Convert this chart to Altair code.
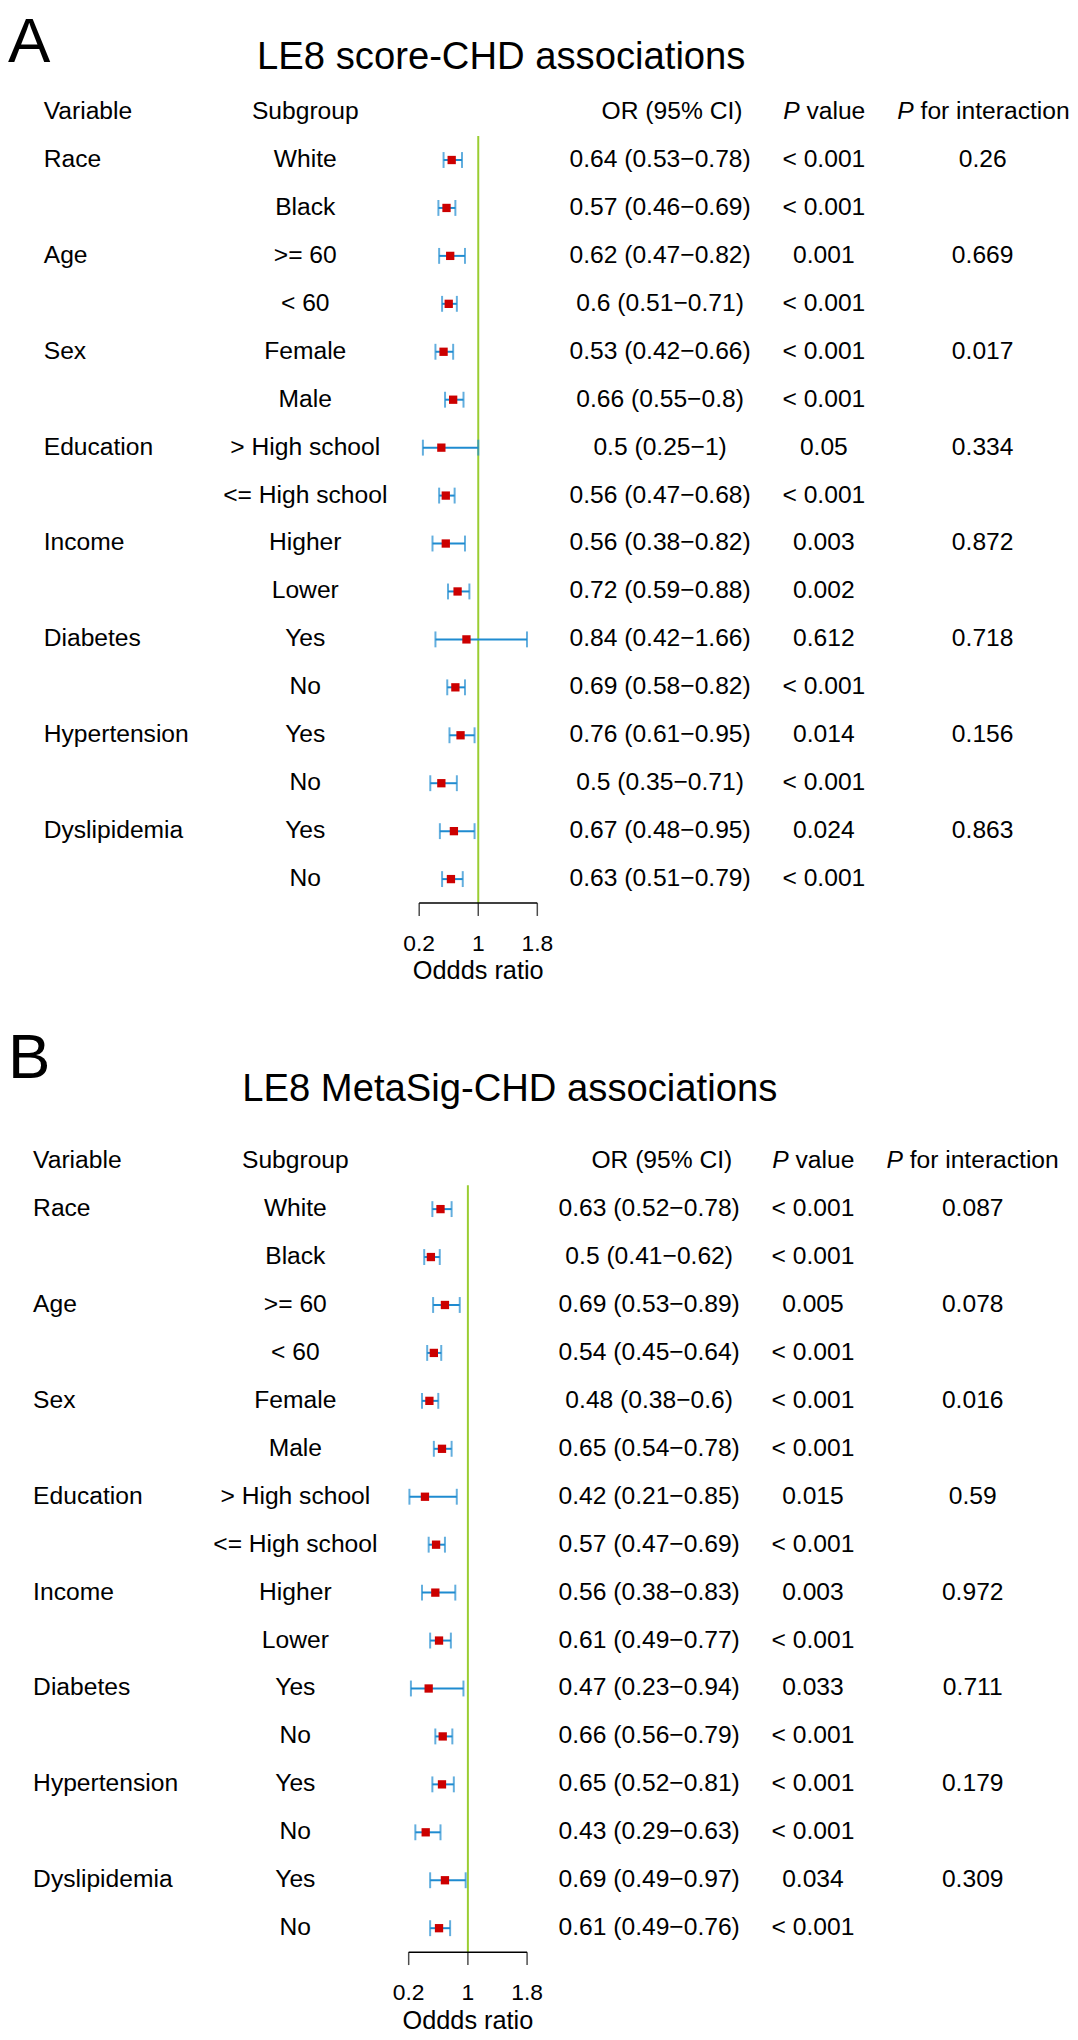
import altair as alt
import pandas as pd

# ---------------- data ----------------
variables = ["Race", "", "Age", "", "Sex", "", "Education", "", "Income", "",
             "Diabetes", "", "Hypertension", "", "Dyslipidemia", ""]
subgroups = ["White", "Black", ">= 60", "< 60", "Female", "Male", "> High school",
             "<= High school", "Higher", "Lower", "Yes", "No", "Yes", "No", "Yes", "No"]

a_or = [0.64, 0.57, 0.62, 0.6, 0.53, 0.66, 0.5, 0.56, 0.56, 0.72, 0.84, 0.69, 0.76, 0.5, 0.67, 0.63]
a_lo = [0.53, 0.46, 0.47, 0.51, 0.42, 0.55, 0.25, 0.47, 0.38, 0.59, 0.42, 0.58, 0.61, 0.35, 0.48, 0.51]
a_hi = [0.78, 0.69, 0.82, 0.71, 0.66, 0.8, 1, 0.68, 0.82, 0.88, 1.66, 0.82, 0.95, 0.71, 0.95, 0.79]
a_p = ["< 0.001", "< 0.001", "0.001", "< 0.001", "< 0.001", "< 0.001", "0.05", "< 0.001",
       "0.003", "0.002", "0.612", "< 0.001", "0.014", "< 0.001", "0.024", "< 0.001"]
a_pint = ["0.26", "", "0.669", "", "0.017", "", "0.334", "", "0.872", "", "0.718", "",
          "0.156", "", "0.863", ""]

b_or = [0.63, 0.5, 0.69, 0.54, 0.48, 0.65, 0.42, 0.57, 0.56, 0.61, 0.47, 0.66, 0.65, 0.43, 0.69, 0.61]
b_lo = [0.52, 0.41, 0.53, 0.45, 0.38, 0.54, 0.21, 0.47, 0.38, 0.49, 0.23, 0.56, 0.52, 0.29, 0.49, 0.49]
b_hi = [0.78, 0.62, 0.89, 0.64, 0.6, 0.78, 0.85, 0.69, 0.83, 0.77, 0.94, 0.79, 0.81, 0.63, 0.97, 0.76]
b_p = ["< 0.001", "< 0.001", "0.005", "< 0.001", "< 0.001", "< 0.001", "0.015", "< 0.001",
       "0.003", "< 0.001", "0.033", "< 0.001", "< 0.001", "< 0.001", "0.034", "< 0.001"]
b_pint = ["0.087", "", "0.078", "", "0.016", "", "0.59", "", "0.972", "", "0.711", "",
          "0.179", "", "0.309", ""]

axis_ticks = [0.2, 1, 1.8]
axis_title = "Oddds ratio"

FONT = "Liberation Sans"
FS = 24.8
RED = "#cc0000"
BLUE = "#1f8bd0"
GREEN = "#9acd32"
W, H = 1070, 2032
P_GAP = 0.945 * FS  # width of italic "P" plus a space


def fmt(v):
    return f"{v:g}"


def make_df(o, lo, hi, p, pint):
    return pd.DataFrame({
        "row": list(range(len(o))),
        "variable": variables,
        "subgroup": subgroups,
        "or": o, "lo": lo, "hi": hi,
        "ci": [f"{fmt(a)} ({fmt(b)}\u2212{fmt(c)})" for a, b, c in zip(o, lo, hi)],
        "p": p, "pint": pint,
    })


def panel(df, letter, title, L):
    yscale = alt.Scale(domain=[0, 15], range=[L["y0"], L["y15"]], zero=False, nice=False)
    xscale = alt.Scale(domain=[0.2, 1.8], range=L["xr"], zero=False, nice=False)
    Y = alt.Y("row:Q", scale=yscale, axis=None)

    def X(field):
        return alt.X(f"{field}:Q", scale=xscale, axis=None)

    def YF(field):
        return alt.Y(f"{field}:Q", scale=yscale, axis=None)

    base = alt.Chart(df)

    def col(field, x, align):
        return base.mark_text(align=align, baseline="middle", font=FONT, fontSize=FS,
                              color="black").encode(x=alt.value(x), y=Y, text=f"{field}:N")

    def head(label, x, align, italic=False):
        d = pd.DataFrame({"row": [-1], "t": [label]})
        kw = dict(fontStyle="italic") if italic else {}
        return alt.Chart(d).mark_text(align=align, baseline="middle", font=FONT, fontSize=FS,
                                      color="black", **kw).encode(
            x=alt.value(x), y=Y, text="t:N")

    def free_text(label, x, y, size):
        d = pd.DataFrame({"t": [label]})
        return alt.Chart(d).mark_text(align="left", baseline="alphabetic", font=FONT,
                                      fontSize=size, color="black").encode(
            x=alt.value(x), y=alt.value(y), text="t:N")

    ref = pd.DataFrame({"x": [1], "y1": [-0.5], "y2": [15.5]})
    vline = alt.Chart(ref).mark_rule(color=GREEN, strokeWidth=2).encode(
        x=X("x"), y=YF("y1"), y2="y2:Q")

    ci = base.mark_rule(color=BLUE, strokeWidth=2).encode(x=X("lo"), x2="hi:Q", y=Y)
    cap_lo = base.mark_tick(color=BLUE, orient="vertical", size=16, thickness=2).encode(
        x=X("lo"), y=Y)
    cap_hi = base.mark_tick(color=BLUE, orient="vertical", size=16, thickness=2).encode(
        x=X("hi"), y=Y)
    sq = base.mark_square(color=RED, size=70, opacity=1, filled=True).encode(
        x=X("or"), y=Y)

    # hand-drawn x axis (R style), half a row below the last row
    dom = pd.DataFrame({"x1": [min(axis_ticks)], "x2": [max(axis_ticks)], "y": [15.5]})
    ax_line = alt.Chart(dom).mark_rule(color="black", strokeWidth=1.5).encode(
        x=X("x1"), x2="x2:Q", y=YF("y"))
    tdf = pd.DataFrame({"v": axis_ticks, "y": [15.5] * len(axis_ticks),
                        "lab": [fmt(v) for v in axis_ticks]})
    ax_ticks = alt.Chart(tdf).mark_tick(color="black", orient="vertical", size=13,
                                        thickness=1.5, yOffset=6.5).encode(
        x=X("v"), y=YF("y"))
    ax_labels = alt.Chart(tdf).mark_text(font=FONT, fontSize=23, color="black",
                                         baseline="alphabetic", align="center", dy=48).encode(
        x=X("v"), y=YF("y"), text="lab:N")
    tt = pd.DataFrame({"v": [1], "y": [15.5], "t": [axis_title]})
    ax_title = alt.Chart(tt).mark_text(font=FONT, fontSize=25.5, color="black",
                                       baseline="alphabetic", align="center", dy=77).encode(
        x=X("v"), y=YF("y"), text="t:N")

    layers = [
        free_text(letter, L["letter_x"], L["letter_y"], L["letter_fs"]),
        free_text(title, L["title_x"], L["title_y"], 38.5),
        head("Variable", L["var_x"], "left"),
        head("Subgroup", L["sub_x"], "center"),
        head("OR (95% CI)", L["or_hx"], "right"),
        head("P", L["p_l"], "left", True),
        head("value", L["p_l"] + P_GAP, "left"),
        head("P", L["pi_l"], "left", True),
        head("for interaction", L["pi_l"] + P_GAP, "left"),
        col("variable", L["var_x"], "left"),
        col("subgroup", L["sub_x"], "center"),
        col("ci", L["or_x"], "center"),
        col("p", L["p_x"], "center"),
        col("pint", L["pi_x"], "center"),
        vline, ax_line, ax_ticks, ax_labels, ax_title, ci, cap_lo, cap_hi, sq,
    ]
    return alt.layer(*layers)


LA = dict(y0=145.5, y15=870, xr=[414.3, 533.3],
          letter_x=0, letter_y=47, letter_fs=64, title_x=251, title_y=54,
          var_x=36, sub_x=299.5, or_x=657, or_hx=740, p_x=822, p_l=781,
          pi_x=982, pi_l=896)
LB = dict(y0=1202.5, y15=1927, xr=[403.7, 523],
          letter_x=0, letter_y=1070, letter_fs=64, title_x=236, title_y=1093.7,
          var_x=25.3, sub_x=289.5, or_x=646, or_hx=729.7, p_x=811, p_l=770,
          pi_x=972, pi_l=885)

pa = panel(make_df(a_or, a_lo, a_hi, a_p, a_pint), "A", "LE8 score-CHD associations", LA)
pb = panel(make_df(b_or, b_lo, b_hi, b_p, b_pint), "B", "LE8 MetaSig-CHD associations", LB)

chart = alt.layer(pa, pb).resolve_scale(x="independent", y="independent").properties(
    width=W, height=H, padding=0, autosize=alt.AutoSizeParams(type="none"),
    background="white",
).configure_view(stroke=None)

chart.save("out.html", embed_options={"renderer": "svg", "actions": False})
